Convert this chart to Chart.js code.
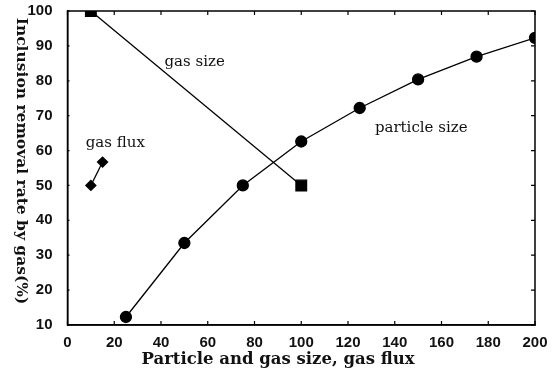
<!DOCTYPE html>
<html>
<head>
<meta charset="utf-8">
<script src="https://cdn.jsdelivr.net/npm/chart.js@4/dist/chart.umd.min.js"></script>
<style>
html,body{margin:0;padding:0;background:#fff;}
#wrap{width:553px;height:372px;position:relative;}
</style>
</head>
<body>
<div id="wrap"><canvas id="c" width="553" height="372"></canvas></div>
<script>
// ---- data ----
const particleX = [25, 50, 75, 100, 125, 150, 175, 200];
const particleY = [12.3, 33.5, 50, 62.6, 72.2, 80.4, 86.9, 92.3];
const gasSizeX = [10, 100];
const gasSizeY = [100, 50];
const gasFluxX = [10, 15];
const gasFluxY = [50, 56.7];
const seriesNames = ["particle size", "gas size", "gas flux"];
const xTitle = "Particle and gas size, gas flux";
const yTitle = "Inclusion removal rate by gas(%)";

const toPts = (xs, ys) => xs.map((x, i) => ({x: x, y: ys[i]}));

// in-plot series labels (data coordinates)
const seriesLabelPos = [
  {text: seriesNames[1], x: 41.5, y: 85.4},
  {text: seriesNames[0], x: 131.5, y: 66.5},
  {text: seriesNames[2], x: 7.8, y: 62.2}
];

const framePlugin = {
  id: 'frame',
  afterDatasetsDraw(chart) {
    const {ctx, chartArea: a, scales: {x, y}} = chart;
    ctx.save();
    ctx.strokeStyle = '#000';
    ctx.lineWidth = 1.5;
    ctx.strokeRect(a.left, a.top, a.right - a.left, a.bottom - a.top);
    ctx.lineWidth = 1.2;
    ctx.beginPath();
    x.ticks.forEach(t => {
      const px = x.getPixelForValue(t.value);
      ctx.moveTo(px, a.bottom); ctx.lineTo(px, a.bottom - 4);
      ctx.moveTo(px, a.top); ctx.lineTo(px, a.top + 4);
    });
    y.ticks.forEach(t => {
      const py = y.getPixelForValue(t.value);
      ctx.moveTo(a.right, py); ctx.lineTo(a.right - 4, py);
      ctx.moveTo(a.left, py); ctx.lineTo(a.left + 2, py);
    });
    ctx.stroke();
    // series labels
    ctx.fillStyle = '#111';
    ctx.font = '15px "DejaVu Serif", "Liberation Serif", serif';
    ctx.textBaseline = 'middle';
    ctx.textAlign = 'left';
    seriesLabelPos.forEach(l => {
      ctx.fillText(l.text, x.getPixelForValue(l.x), y.getPixelForValue(l.y));
    });
    // axis titles
    ctx.font = 'bold 16.5px "DejaVu Serif", "Liberation Serif", serif';
    ctx.textAlign = 'center';
    ctx.fillText(xTitle, 278, 360);
    ctx.save();
    ctx.translate(21, 161);
    ctx.rotate(Math.PI / 2);
    ctx.font = 'bold 15.5px "DejaVu Serif", "Liberation Serif", serif';
    ctx.fillText(yTitle, 0, 0);
    ctx.restore();
    ctx.restore();
  }
};

const common = {
  borderColor: '#000',
  backgroundColor: '#000',
  pointBackgroundColor: '#000',
  pointBorderColor: '#000',
  borderWidth: 1.3,
  tension: 0,
  showLine: true
};

new Chart(document.getElementById('c'), {
  type: 'scatter',
  data: {
    datasets: [
      Object.assign({}, common, {label: seriesNames[0], data: toPts(particleX, particleY), pointStyle: 'circle', pointRadius: 5.5}),
      Object.assign({}, common, {label: seriesNames[1], data: toPts(gasSizeX, gasSizeY), pointStyle: 'rect', pointRadius: 7.5}),
      Object.assign({}, common, {label: seriesNames[2], data: toPts(gasFluxX, gasFluxY), pointStyle: 'rectRot', pointRadius: 5})
    ]
  },
  options: {
    responsive: false,
    animation: false,
    layout: {padding: {left: 0, right: 18, top: 11, bottom: 0}},
    plugins: {legend: {display: false}, tooltip: {enabled: false}},
    scales: {
      x: {
        type: 'linear', min: 0, max: 200,
        ticks: {stepSize: 20, color: '#111', padding: 1, maxRotation: 0,
          font: {family: '"Liberation Sans", Arial, sans-serif', size: 15, weight: 'bold'}},
        grid: {display: false},
        border: {display: true, color: '#000', width: 1.5},
        afterFit(s) { s.height = 47; }
      },
      y: {
        type: 'linear', min: 10, max: 100,
        ticks: {stepSize: 10, color: '#111', padding: 7,
          font: {family: '"Liberation Sans", Arial, sans-serif', size: 15, weight: 'bold', lineHeight: 0.5}},
        grid: {display: false},
        border: {display: true, color: '#000', width: 1.5},
        afterFit(s) { s.width = 67.5; }
      }
    }
  },
  plugins: [framePlugin]
});
</script>
</body>
</html>
